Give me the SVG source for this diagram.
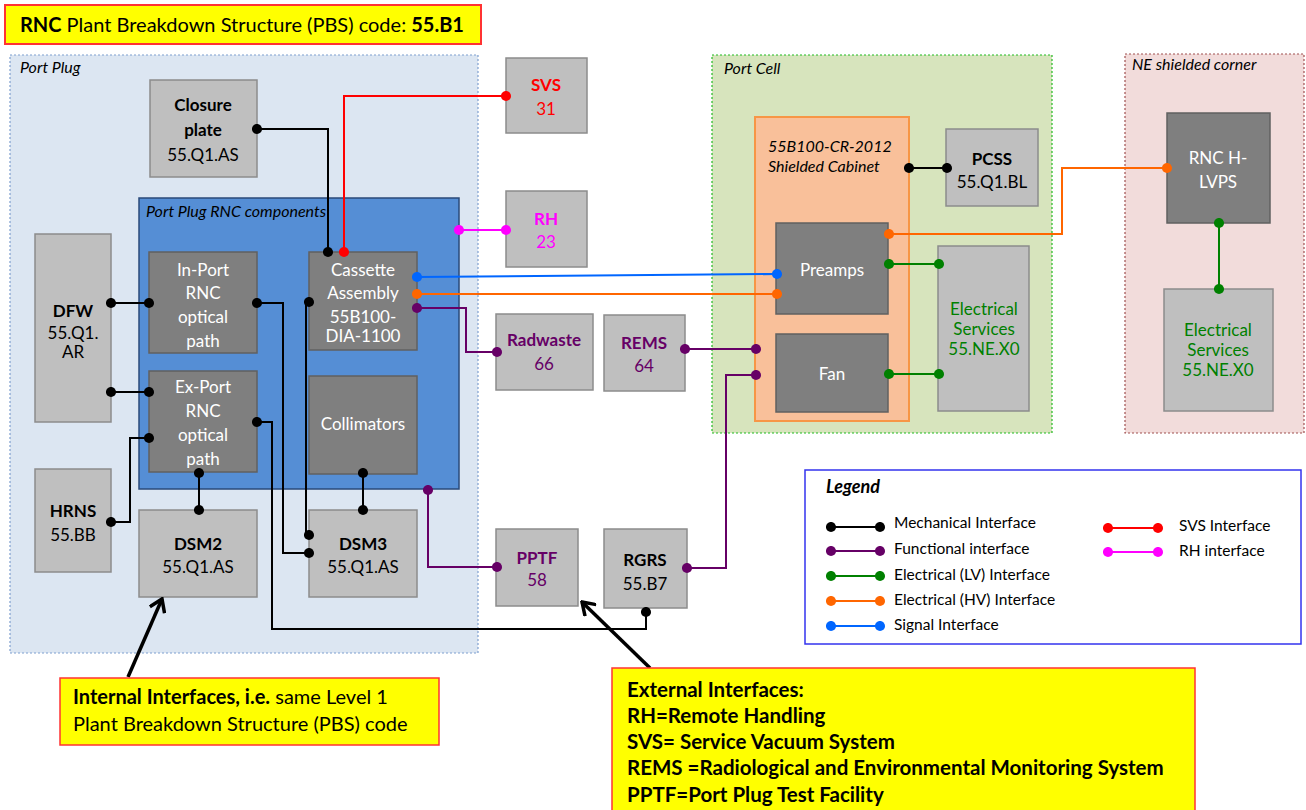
<svg xmlns="http://www.w3.org/2000/svg" width="1306" height="810" viewBox="0 0 1306 810">
<style>
text{font-family:Lato,"Liberation Sans",sans-serif;}
.t{font-size:17px;text-anchor:middle;}
.b{font-weight:bold;}
.w{fill:#ffffff;}
.k{fill:#000000;}
.pu{fill:#660066;}
.gr{fill:#008000;}
.lt{fill:#bfbfbf;stroke:#8c8c8c;stroke-width:1.5;}
.dk{fill:#7f7f7f;stroke:#606060;stroke-width:1.5;}
.lbl{font-size:16px;font-style:italic;fill:#000;}
.c{fill:none;stroke-width:2;}
.mk{stroke:#000;} .fu{stroke:#660066;} .lv{stroke:#008000;} .hv{stroke:#ff6600;} .sg{stroke:#0066ff;} .sv{stroke:#ff0000;} .rh{stroke:#ff00ff;}
.leg{font-size:15.5px;fill:#000;}
.ext{font-size:20.5px;font-weight:bold;fill:#000;}
</style>
<defs>
<marker id="dk" viewBox="-6 -6 12 12" markerWidth="11" markerHeight="11" markerUnits="userSpaceOnUse"><circle r="5.5" fill="#000"/></marker>
<marker id="dp" viewBox="-6 -6 12 12" markerWidth="11" markerHeight="11" markerUnits="userSpaceOnUse"><circle r="5.5" fill="#660066"/></marker>
<marker id="dg" viewBox="-6 -6 12 12" markerWidth="11" markerHeight="11" markerUnits="userSpaceOnUse"><circle r="5.5" fill="#008000"/></marker>
<marker id="do" viewBox="-6 -6 12 12" markerWidth="11" markerHeight="11" markerUnits="userSpaceOnUse"><circle r="5.5" fill="#ff6600"/></marker>
<marker id="db" viewBox="-6 -6 12 12" markerWidth="11" markerHeight="11" markerUnits="userSpaceOnUse"><circle r="5.5" fill="#0066ff"/></marker>
<marker id="dr" viewBox="-6 -6 12 12" markerWidth="11" markerHeight="11" markerUnits="userSpaceOnUse"><circle r="5.5" fill="#ff0000"/></marker>
<marker id="dm" viewBox="-6 -6 12 12" markerWidth="11" markerHeight="11" markerUnits="userSpaceOnUse"><circle r="5.5" fill="#ff00ff"/></marker>
<marker id="arr" viewBox="-14 -9 16 18" markerWidth="16" markerHeight="18" markerUnits="userSpaceOnUse" orient="auto"><path d="M-12,-8 L0,0 L-12,8" fill="none" stroke="#000" stroke-width="3.5"/></marker>
</defs>
<rect width="1306" height="810" fill="#ffffff"/>

<!-- Title -->
<g id="title">
<rect x="5" y="5" width="476" height="39" fill="#ffff00" stroke="#ff3333" stroke-width="2"/>
<text x="20" y="32" font-size="20"><tspan font-weight="bold">RNC</tspan> Plant Breakdown Structure (PBS) code: <tspan font-weight="bold">55.B1</tspan></text>
</g>

<!-- Regions -->
<g id="port-plug">
<rect x="10" y="55" width="468" height="598" fill="#dce6f2" stroke="#7f9fcf" stroke-width="1.2" stroke-dasharray="2,2"/>
<text x="20" y="73" class="lbl">Port Plug</text>
</g>
<g id="port-cell">
<rect x="712" y="55" width="340" height="378" fill="#d7e4bd" stroke="#22bb22" stroke-width="1.2" stroke-dasharray="2,2"/>
<text x="724" y="74" class="lbl">Port Cell</text>
</g>
<g id="ne-corner">
<rect x="1125" y="54" width="179" height="379" fill="#f2dcdb" stroke="#a05050" stroke-width="1.2" stroke-dasharray="2,2"/>
<text x="1132" y="70" class="lbl">NE shielded corner</text>
</g>
<g id="rnc-components">
<rect x="139" y="198" width="320" height="291" fill="#558ed5" stroke="#2a4a7a" stroke-width="1.5"/>
<text x="146" y="217" class="lbl">Port Plug RNC components</text>
</g>
<g id="shielded-cabinet">
<rect x="755" y="117" width="154" height="304" fill="#f9c09a" stroke="#f79646" stroke-width="2"/>
<text x="768" y="152" class="lbl" font-size="15">55B100-CR-2012</text>
<text x="768" y="172" class="lbl" font-size="15">Shielded Cabinet</text>
</g>

<!-- Nodes -->
<g id="closure-plate">
<rect x="150" y="80" width="107" height="97" class="lt"/>
<text x="203" y="111" class="t b" font-size="18">Closure</text>
<text x="203" y="136" class="t b" font-size="18">plate</text>
<text x="203" y="161" class="t">55.Q1.AS</text>
</g>
<g id="dfw">
<rect x="35" y="234" width="76" height="188" class="lt"/>
<text x="73" y="317" class="t b" font-size="18">DFW</text>
<text x="73" y="339" class="t" font-size="15">55.Q1.</text>
<text x="73" y="358" class="t" font-size="16">AR</text>
</g>
<g id="hrns">
<rect x="35" y="469" width="76" height="103" class="lt"/>
<text x="73" y="517" class="t b">HRNS</text>
<text x="73" y="541" class="t">55.BB</text>
</g>
<g id="in-port">
<rect x="149" y="252" width="108" height="101" class="dk"/>
<text x="203" y="276" class="t w" font-size="18">In-Port</text>
<text x="203" y="299" class="t w" font-size="18">RNC</text>
<text x="203" y="323" class="t w" font-size="18">optical</text>
<text x="203" y="347" class="t w" font-size="18">path</text>
</g>
<g id="ex-port">
<rect x="149" y="371" width="108" height="101" class="dk"/>
<text x="203" y="393" class="t w" font-size="18">Ex-Port</text>
<text x="203" y="417" class="t w" font-size="18">RNC</text>
<text x="203" y="441" class="t w" font-size="18">optical</text>
<text x="203" y="465" class="t w" font-size="18">path</text>
</g>
<g id="cassette">
<rect x="309" y="252" width="108" height="98" class="dk"/>
<text x="363" y="276" class="t w" font-size="18">Cassette</text>
<text x="363" y="299" class="t w" font-size="18">Assembly</text>
<text x="363" y="323" class="t w" font-size="12">55B100-</text>
<text x="363" y="342" class="t w" font-size="12">DIA-1100</text>
</g>
<g id="collimators">
<rect x="309" y="376" width="108" height="98" class="dk"/>
<text x="363" y="430" class="t w" font-size="12">Collimators</text>
</g>
<g id="dsm2">
<rect x="139" y="510" width="118" height="87" class="lt"/>
<text x="198" y="550" class="t b" font-size="18">DSM2</text>
<text x="198" y="573" class="t">55.Q1.AS</text>
</g>
<g id="dsm3">
<rect x="309" y="510" width="108" height="87" class="lt"/>
<text x="363" y="550" class="t b" font-size="18">DSM3</text>
<text x="363" y="573" class="t">55.Q1.AS</text>
</g>
<g id="svs">
<rect x="506" y="58" width="81" height="75" class="lt"/>
<text x="546" y="91" class="t b" fill="#ff0000">SVS</text>
<text x="546" y="115" class="t" fill="#ff0000">31</text>
</g>
<g id="rh">
<rect x="506" y="191" width="81" height="76" class="lt"/>
<text x="546" y="225" class="t b" fill="#ff00ff">RH</text>
<text x="546" y="248" class="t" fill="#ff00ff">23</text>
</g>
<g id="radwaste">
<rect x="496" y="314" width="97" height="76" class="lt"/>
<text x="544" y="346" class="t b pu" font-size="13">Radwaste</text>
<text x="544" y="370" class="t pu">66</text>
</g>
<g id="rems">
<rect x="604" y="315" width="81" height="76" class="lt"/>
<text x="644" y="349" class="t b pu">REMS</text>
<text x="644" y="372" class="t pu">64</text>
</g>
<g id="pptf">
<rect x="496" y="529" width="82" height="77" class="lt"/>
<text x="537" y="564" class="t b pu">PPTF</text>
<text x="537" y="586" class="t pu">58</text>
</g>
<g id="rgrs">
<rect x="604" y="529" width="83" height="79" class="lt"/>
<text x="645" y="566" class="t b">RGRS</text>
<text x="645" y="590" class="t">55.B7</text>
</g>
<g id="preamps">
<rect x="776" y="223" width="112" height="91" class="dk"/>
<text x="832" y="276" class="t w" font-size="18.5">Preamps</text>
</g>
<g id="fan">
<rect x="776" y="334" width="112" height="78" class="dk"/>
<text x="832" y="380" class="t w" font-size="18.5">Fan</text>
</g>
<g id="pcss">
<rect x="946" y="129" width="92" height="77" class="lt"/>
<text x="992" y="165" class="t b">PCSS</text>
<text x="992" y="188" class="t" font-size="13.5">55.Q1.BL</text>
</g>
<g id="elec-pc">
<rect x="938" y="246" width="91" height="165" class="lt"/>
<text x="984" y="315" class="t gr" font-size="13.5">Electrical</text>
<text x="984" y="335" class="t gr" font-size="13.5">Services</text>
<text x="984" y="355" class="t gr" font-size="13.5">55.NE.X0</text>
</g>
<g id="hlvps">
<rect x="1167" y="113" width="103" height="110" class="dk"/>
<text x="1218" y="164" class="t w">RNC H-</text>
<text x="1218" y="188" class="t w">LVPS</text>
</g>
<g id="elec-ne">
<rect x="1164" y="289" width="109" height="122" class="lt"/>
<text x="1218" y="336" class="t gr" font-size="13.5">Electrical</text>
<text x="1218" y="356" class="t gr" font-size="13.5">Services</text>
<text x="1218" y="376" class="t gr" font-size="13.5">55.NE.X0</text>
</g>

<!-- Connectors -->
<g id="connectors">
<path class="c mk" d="M257,129 H328 V252" marker-start="url(#dk)" marker-end="url(#dk)"/>
<path class="c mk" d="M111,303 H149" marker-start="url(#dk)" marker-end="url(#dk)"/>
<path class="c mk" d="M111,392 H149" marker-start="url(#dk)" marker-end="url(#dk)"/>
<path class="c mk" d="M111,522 H130 V438 H149" marker-start="url(#dk)" marker-end="url(#dk)"/>
<path class="c mk" d="M257,303 H283 V553 H309" marker-start="url(#dk)" marker-end="url(#dk)"/>
<path class="c mk" d="M309,302 H306 V535 H309" marker-start="url(#dk)" marker-end="url(#dk)"/>
<path class="c mk" d="M257,422 H272 V629 H646 V612" marker-start="url(#dk)" marker-end="url(#dk)"/>
<path class="c mk" d="M199,473 V510" marker-start="url(#dk)" marker-end="url(#dk)"/>
<path class="c mk" d="M363,473 V510" marker-start="url(#dk)" marker-end="url(#dk)"/>
<path class="c mk" d="M909,168 H947" marker-start="url(#dk)" marker-end="url(#dk)"/>
<path class="c sv" d="M506,96 H344 V252" marker-start="url(#dr)" marker-end="url(#dr)"/>
<path class="c rh" d="M459,230 H506" marker-start="url(#dm)" marker-end="url(#dm)"/>
<path class="c sg" d="M417,277 L777,274" marker-start="url(#db)" marker-end="url(#db)"/>
<path class="c hv" d="M417,294 H777" marker-start="url(#do)" marker-end="url(#do)"/>
<path class="c hv" d="M889,234 H1062 V168 H1167" marker-start="url(#do)" marker-end="url(#do)"/>
<path class="c fu" d="M417,308 H466 V352 H497" marker-start="url(#dp)" marker-end="url(#dp)"/>
<path class="c fu" d="M428,490 V567 H497" marker-start="url(#dp)" marker-end="url(#dp)"/>
<path class="c fu" d="M685,349 H756" marker-start="url(#dp)" marker-end="url(#dp)"/>
<path class="c fu" d="M687,568 H726 V375 H756" marker-start="url(#dp)" marker-end="url(#dp)"/>
<path class="c lv" d="M889,264 H939" marker-start="url(#dg)" marker-end="url(#dg)"/>
<path class="c lv" d="M889,374 H939" marker-start="url(#dg)" marker-end="url(#dg)"/>
<path class="c lv" d="M1219,223 V289" marker-start="url(#dg)" marker-end="url(#dg)"/>
<path d="M128,677 L162,599" stroke="#000" stroke-width="3.5" fill="none" marker-end="url(#arr)"/>
<path d="M650,668 L582,602" stroke="#000" stroke-width="3.5" fill="none" marker-end="url(#arr)"/>
</g>

<!-- Legend -->
<g id="legend">
<rect x="805" y="470" width="496" height="174" fill="#ffffff" stroke="#3333ee" stroke-width="1.5"/>
<text x="826" y="493" font-size="18" font-weight="bold" font-style="italic">Legend</text>
<path class="c mk" d="M831,527 H880" marker-start="url(#dk)" marker-end="url(#dk)"/>
<path class="c fu" d="M831,551 H880" marker-start="url(#dp)" marker-end="url(#dp)"/>
<path class="c lv" d="M831,576 H880" marker-start="url(#dg)" marker-end="url(#dg)"/>
<path class="c hv" d="M831,601 H880" marker-start="url(#do)" marker-end="url(#do)"/>
<path class="c sg" d="M831,626 H880" marker-start="url(#db)" marker-end="url(#db)"/>
<path class="c sv" d="M1108,528 H1158" marker-start="url(#dr)" marker-end="url(#dr)"/>
<path class="c rh" d="M1108,552 H1158" marker-start="url(#dm)" marker-end="url(#dm)"/>
<text x="894" y="528" class="leg">Mechanical Interface</text>
<text x="894" y="554" class="leg">Functional interface</text>
<text x="894" y="580" class="leg">Electrical (LV) Interface</text>
<text x="894" y="605" class="leg">Electrical (HV) Interface</text>
<text x="894" y="630" class="leg">Signal Interface</text>
<text x="1179" y="531" class="leg">SVS Interface</text>
<text x="1179" y="556" class="leg">RH interface</text>
</g>

<!-- Callouts -->
<g id="internal-note">
<rect x="60" y="678" width="379" height="67" fill="#ffff00" stroke="#ff3333" stroke-width="1.5"/>
<text x="73" y="704" font-size="20"><tspan font-weight="bold">Internal Interfaces, i.e.</tspan> same Level 1</text>
<text x="73" y="731" font-size="20">Plant Breakdown Structure (PBS) code</text>
</g>
<g id="external-note">
<rect x="612" y="668" width="583" height="145" fill="#ffff00" stroke="#ff3333" stroke-width="1.5"/>
<text x="627" y="697" class="ext">External Interfaces:</text>
<text x="627" y="723" class="ext">RH=Remote Handling</text>
<text x="627" y="749" class="ext">SVS= Service Vacuum System</text>
<text x="627" y="775" class="ext">REMS =Radiological and Environmental Monitoring System</text>
<text x="627" y="802" class="ext">PPTF=Port Plug Test Facility</text>
</g>
</svg>
